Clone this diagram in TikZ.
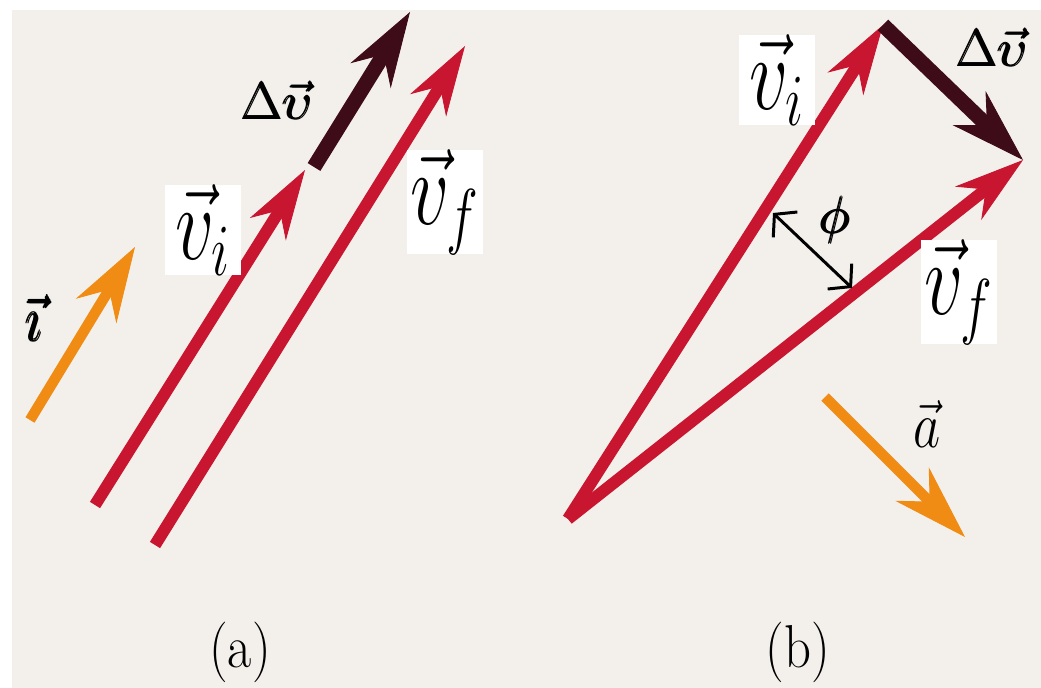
\RequirePackage{fix-cm}
\documentclass[tikz,border=0pt]{standalone}
\usepackage{graphicx}
\usepackage{amsmath}
\usetikzlibrary{
    arrows.meta
}

\definecolor{paper}{RGB}{243,240,236}
\definecolor{vecred}{RGB}{200,22,48}
\definecolor{deltadark}{RGB}{62,12,24}
\definecolor{unitorange}{RGB}{240,140,20}

\newcommand{\vlabel}[1]{\scalebox{0.95}[1.3]{$\vec{v}_{#1}$}}

\begin{document}
\begin{tikzpicture}[
    x=0.02cm,
    y=-0.02cm,
    vector/.style={
        draw=vecred,
        line width=6.8pt,
        -{Stealth[length=1.4cm, width=0.85cm, inset=0.45cm, line width=0.5pt]}
    },
    delta/.style={
        draw=deltadark,
        line width=8.5pt,
        -{Stealth[length=1.5cm, width=0.95cm, inset=0.5cm, line width=0.5pt]}
    },
    unitvec/.style={
        draw=unitorange,
        line width=6pt,
        -{Stealth[length=1.5cm, width=0.95cm, inset=0.5cm, line width=0.5pt]}
    },
    angle/.style={
        line width=1.7pt,
        {Straight Barb[length=0.3cm, width=0.7cm]}-{Straight Barb[length=0.3cm, width=0.7cm]}
    },
    vbox/.style={
        fill=white,
        inner sep=0pt,
        minimum width=1.52cm,
        minimum height=1.8cm,
        font=\fontsize{46}{46}\selectfont
    },
    symbol/.style={
        inner sep=0pt,
        font=\fontsize{30}{30}\selectfont
    },
    caption/.style={
        inner sep=0pt,
        font=\fontsize{30}{30}\selectfont
    }
]

% ============================================================
% PAGE
% ============================================================

\useasboundingbox (0,0) rectangle (1041,688);
\fill[white] (0,0) rectangle (1041,688);
\fill[paper] (12,10) rectangle (1041,688);

% ============================================================
% (a) VECTORS SIDE BY SIDE
% ============================================================

\coordinate (i-tail) at (30,420);
\coordinate (i-tip) at (135,247);

\coordinate (vi-tail-a) at (95,505);
\coordinate (vi-tip-a) at (305,170);

\coordinate (dv-tail-a) at (314,167);
\coordinate (dv-tip-a) at (410,12);

\coordinate (vf-tail-a) at (155,545);
\coordinate (vf-tip-a) at (465,46);

\draw[unitvec] (i-tail) -- (i-tip);
\draw[vector] (vi-tail-a) -- (vi-tip-a);
\draw[vector] (vf-tail-a) -- (vf-tip-a);
\draw[delta] (dv-tail-a) -- (dv-tip-a);

\node[symbol] (ilab) at (35,318) {\scalebox{1}[1.2]{$\pmb{\vec{\imath}}$}};
\node[symbol] (dvlab-a) at (278,100) {$\pmb{\Delta\vec{\upsilon}}$};
\node[vbox] (vilab-a) at (203,230) {\vlabel{i}};
\node[vbox] (vflab-a) at (445,202) {\vlabel{f}};

\node[caption] (capa) at (240,652) {\scalebox{1}[1.15]{(a)}};

% ============================================================
% (b) VECTOR TRIANGLE
% ============================================================

\coordinate (origin-b) at (568,519);
\coordinate (vi-tip-b) at (883,25);
\coordinate (vf-tip-b) at (1023,160);

\coordinate (phi-a) at (773,213);
\coordinate (phi-b) at (852,288);

\coordinate (a-tail) at (825,397);
\coordinate (a-tip) at (965,537);

\draw[vector] (origin-b) -- (vi-tip-b);
\draw[vector] (origin-b) -- (vf-tip-b);
\draw[delta] (vi-tip-b) -- (vf-tip-b);
\draw[angle] (phi-a) -- (phi-b);
\draw[unitvec] (a-tail) -- (a-tip);

\node[vbox] (vilab-b) at (777,80) {\vlabel{i}};
\node[vbox] (vflab-b) at (959,292) {\vlabel{f}};
\node[symbol] (dvlab-b) at (993,47) {$\pmb{\Delta\vec{\upsilon}}$};
\node[symbol] (philab) at (836,220) {$\pmb{\phi}$};
\node[symbol] (alab) at (927,424) {\scalebox{1}[1.25]{$\vec{a}$}};

\node[caption] (capb) at (798,652) {\scalebox{1}[1.15]{(b)}};

\end{tikzpicture}
\end{document}
